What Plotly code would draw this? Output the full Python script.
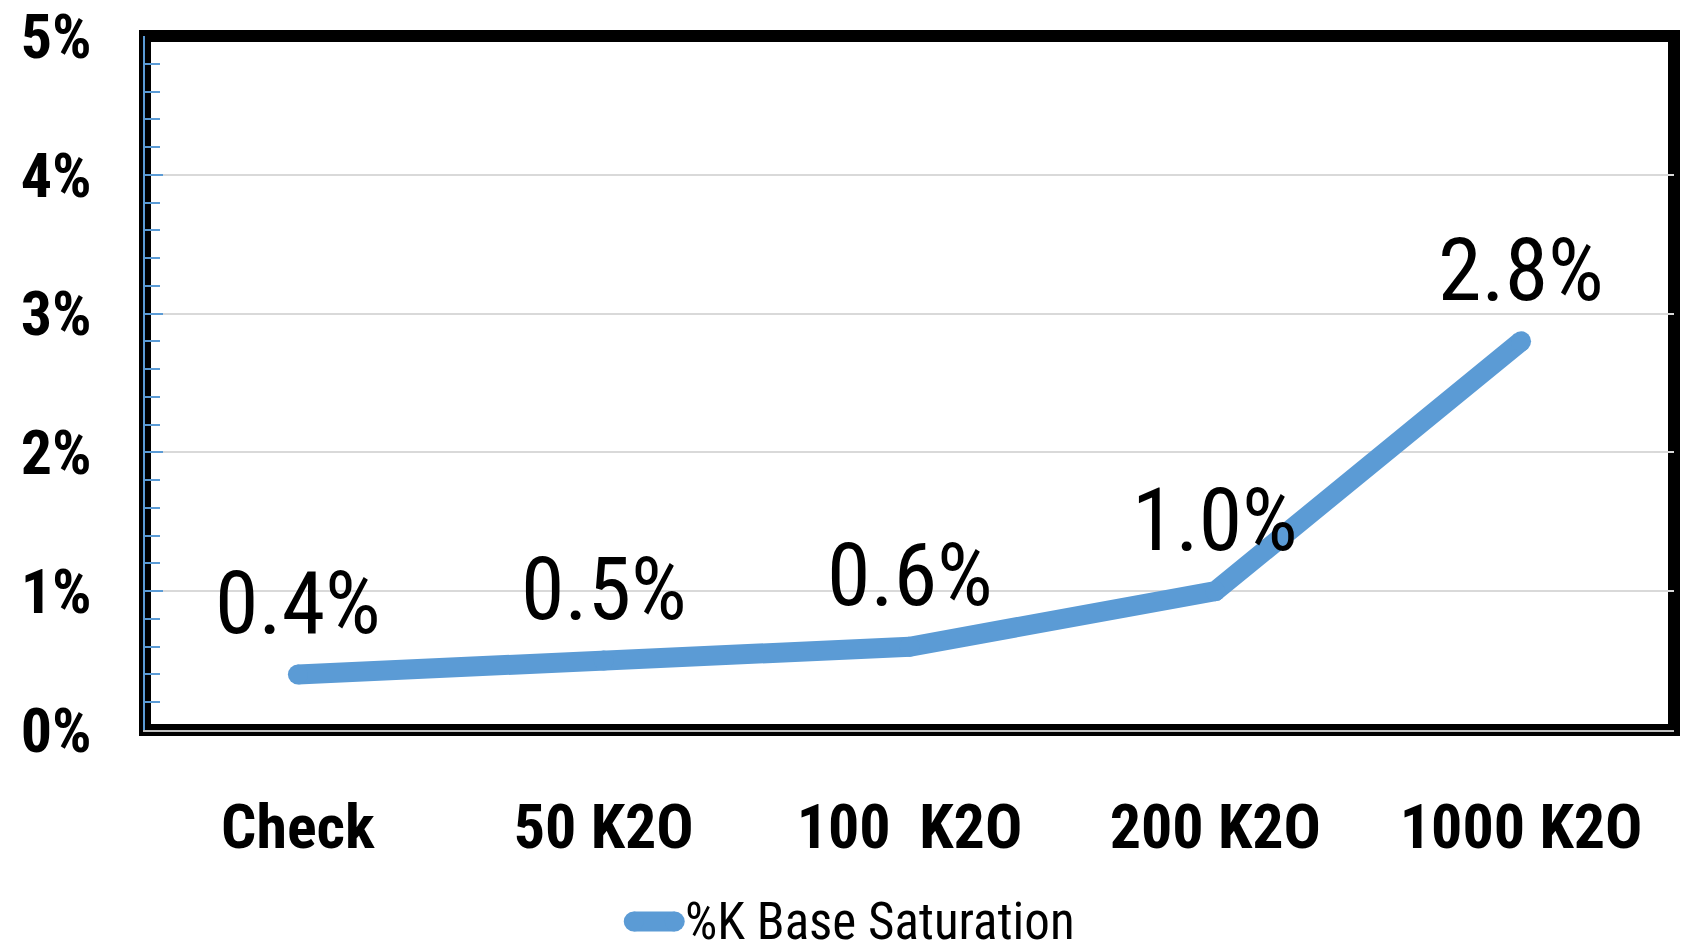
import plotly.graph_objects as go

# Potassium base saturation by K2O rate
treatments = ["Check", "50 K2O", "100\u00a0 K2O", "200 K2O", "1000 K2O"]
k_saturation = [0.004, 0.005, 0.006, 0.010, 0.028]
value_labels = ["0.4%", "0.5%", "0.6%", "1.0%", "2.8%"]
series_name = "%K Base Saturation"

BLUE = "#5B9BD5"
NARROW = "Liberation Sans Narrow, Arial Narrow, Roboto Condensed, sans-serif"

fig = go.Figure()
fig.add_trace(go.Scatter(
    x=treatments,
    y=k_saturation,
    mode="lines+markers",
    name=series_name,
    line=dict(color=BLUE, width=20),
    marker=dict(color=BLUE, size=20, line=dict(width=0)),
    cliponaxis=False,
    showlegend=False,
))

for cat, val, lab in zip(treatments, k_saturation, value_labels):
    fig.add_annotation(
        x=cat, y=val, text=lab, showarrow=False,
        yshift=72, font=dict(family=NARROW, size=88, color="black"),
    )

# heavy black frame around the plotting area
fig.add_shape(
    type="rect", xref="x domain", yref="y domain",
    x0=0, x1=1, y0=0, y1=1,
    line=dict(color="black", width=12), layer="below",
)

# legend key: a thick stroke with round ends, followed by the series name
LEG_X = 0.353    # paper x of the key's right end
LEG_Y = -0.276   # paper y of the key's centre line
key = dict(xref="paper", yref="paper", xsizemode="pixel", ysizemode="pixel",
           xanchor=LEG_X, yanchor=LEG_Y)
fig.add_shape(type="line", x0=-51, x1=-10, y0=0, y1=0,
              line=dict(color=BLUE, width=20), **key)
fig.add_shape(type="circle", x0=-61, x1=-41, y0=-10, y1=10,
              fillcolor=BLUE, line=dict(width=0), **key)
fig.add_shape(type="circle", x0=-20, x1=0, y0=-10, y1=10,
              fillcolor=BLUE, line=dict(width=0), **key)
fig.add_annotation(
    x=LEG_X, y=LEG_Y, xref="paper", yref="paper",
    xanchor="left", yanchor="middle", showarrow=False,
    text=series_name, xshift=-2,
    font=dict(family=NARROW, size=51, color="black"),
)

fig.update_layout(
    width=1686, height=952,
    margin=dict(l=145, r=12, t=36, b=222, autoexpand=False),
    paper_bgcolor="white",
    plot_bgcolor="rgba(0,0,0,0)",
    showlegend=False,
    xaxis=dict(
        type="category", range=[-0.5, 4.5], automargin=False,
        showgrid=False, ticks="", showline=True, linecolor="#BFBFBF", linewidth=2,
        tickfont=dict(family=NARROW, size=62, color="black", weight="bold"),
        ticklabelstandoff=42,
    ),
    yaxis=dict(
        range=[0, 0.05], dtick=0.01, tickformat=".0%", automargin=False,
        ticklabeloverflow="allow",
        showgrid=True, gridcolor="#D9D9D9", gridwidth=2,
        zeroline=False,
        showline=True, linecolor=BLUE, linewidth=2,
        ticks="inside", ticklen=18, tickwidth=2, tickcolor=BLUE,
        minor=dict(dtick=0.002, ticks="inside", ticklen=15, tickwidth=2, tickcolor=BLUE, showgrid=False),
        tickfont=dict(family=NARROW, size=62, color="black", weight="bold"),
        ticklabelstandoff=39,
    ),
)

fig.write_html("out.html")
